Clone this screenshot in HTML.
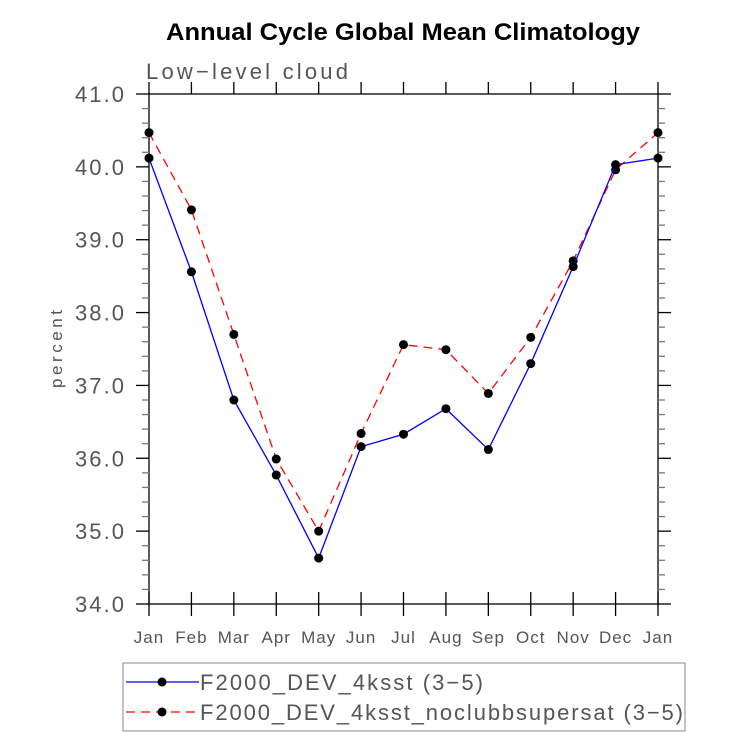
<!DOCTYPE html>
<html><head><meta charset="utf-8"><style>
body{margin:0;background:#fff}
svg text{font-family:"Liberation Sans",sans-serif}
</style></head><body>
<svg id="chart" width="733" height="737" viewBox="0 0 733 737" xmlns="http://www.w3.org/2000/svg">
<text x="166" y="40" font-size="24" font-weight="bold" fill="#000" textLength="474" lengthAdjust="spacingAndGlyphs">Annual Cycle Global Mean Climatology</text>
<text x="146" y="79" font-size="22" fill="#555" textLength="202" lengthAdjust="spacing">Low−level cloud</text>
<text transform="translate(62,349) rotate(-90)" text-anchor="middle" font-size="17" fill="#555" textLength="78" lengthAdjust="spacing">percent</text>
<rect x="149" y="94" width="509" height="510" fill="none" stroke="#000" stroke-width="1.3"/>
<g id="axes"></g>
<g id="series"></g>
<g>
<rect x="123" y="663" width="562" height="68" fill="none" stroke="#888" stroke-width="1"/>
<g>
<line x1="126" y1="682" x2="199" y2="682" stroke="#0000ff" stroke-width="1.3"/>
<circle cx="162" cy="682" r="4.5" fill="#000"/>
<text x="200" y="690" font-size="22" fill="#555" textLength="283" lengthAdjust="spacing">F2000_DEV_4ksst (3−5)</text></g>
<g>
<line x1="126" y1="712" x2="199" y2="712" stroke="#ff0000" stroke-width="1.3" stroke-dasharray="9,6"/>
<circle cx="162" cy="712" r="4.5" fill="#000"/>
<text x="200" y="720" font-size="22" fill="#555" textLength="483" lengthAdjust="spacing">F2000_DEV_4ksst_noclubbsupersat (3−5)</text></g>
</g>
</svg>
<script>
const months=["Jan","Feb","Mar","Apr","May","Jun","Jul","Aug","Sep","Oct","Nov","Dec","Jan"];
const yTicks=["34.0","35.0","36.0","37.0","38.0","39.0","40.0","41.0"];
const blueVals=[40.12,38.56,36.80,35.77,34.63,36.16,36.33,36.68,36.12,37.30,38.63,40.03,40.12];
const redVals=[40.47,39.41,37.70,35.99,35.00,36.34,37.56,37.49,36.89,37.66,38.71,39.96,40.47];
const NS="http://www.w3.org/2000/svg";
const X0=149,X1=658,Y0=604,Y1=94,YMIN=34,YMAX=41;
function xs(i){return X0+(X1-X0)*i/(months.length-1);}
function ys(v){return Y0-(v-YMIN)/(YMAX-YMIN)*(Y0-Y1);}
function mk(tag,attrs,parent){const e=document.createElementNS(NS,tag);for(const k in attrs)e.setAttribute(k,attrs[k]);parent.appendChild(e);return e;}
const ax=document.getElementById('axes');
months.forEach((m,i)=>{
  const x=xs(i);
  const t=mk('line',{x1:x,y1:592,x2:x,y2:616,stroke:'#000','stroke-width':1.3},ax);
  
  
  const t2=mk('line',{x1:x,y1:82,x2:x,y2:94,stroke:'#000','stroke-width':1.3},ax);
  
  
  const l=mk('text',{x:x,y:643,'text-anchor':'middle','font-size':17,fill:'#555','letter-spacing':1},ax);
  l.textContent=m;
  
  
});
for(let v=YMIN;v<=YMAX+1e-9;v+=0.2){
  const y=ys(v);const major=Math.abs(v-Math.round(v))<1e-6;
  const len=major?13:7;
  const a=mk('line',{x1:X0-len,y1:y,x2:X0,y2:y,stroke:major?'#000':'#777','stroke-width':1.3},ax);
  
  
  const b=mk('line',{x1:X1,y1:y,x2:X1+len,y2:y,stroke:major?'#000':'#777','stroke-width':1.3},ax);
  
  
}
yTicks.forEach(s=>{
  const v=parseFloat(s);
  const l=mk('text',{x:124,y:ys(v)+8,'text-anchor':'end','font-size':22,fill:'#555',textLength:49,lengthAdjust:'spacing'},ax);
  l.textContent=s;
  
  
});
const se=document.getElementById('series');
function draw(vals,color,dash,name){
  const g=mk('g',{},se);
  
  
  const p=mk('polyline',{points:vals.map((v,i)=>xs(i)+','+ys(v)).join(' '),fill:'none',stroke:color,'stroke-width':1.3,'stroke-dasharray':dash},g);
  
  
  vals.forEach((v,i)=>{
    const c=mk('circle',{cx:xs(i),cy:ys(v),r:4.5,fill:'#000'},g);
    
    
  });
}
draw(redVals,'#ff0000','9,6','series-noclubbsupersat');
draw(blueVals,'#0000ff','none','series-4ksst');
</script>
</body></html>
